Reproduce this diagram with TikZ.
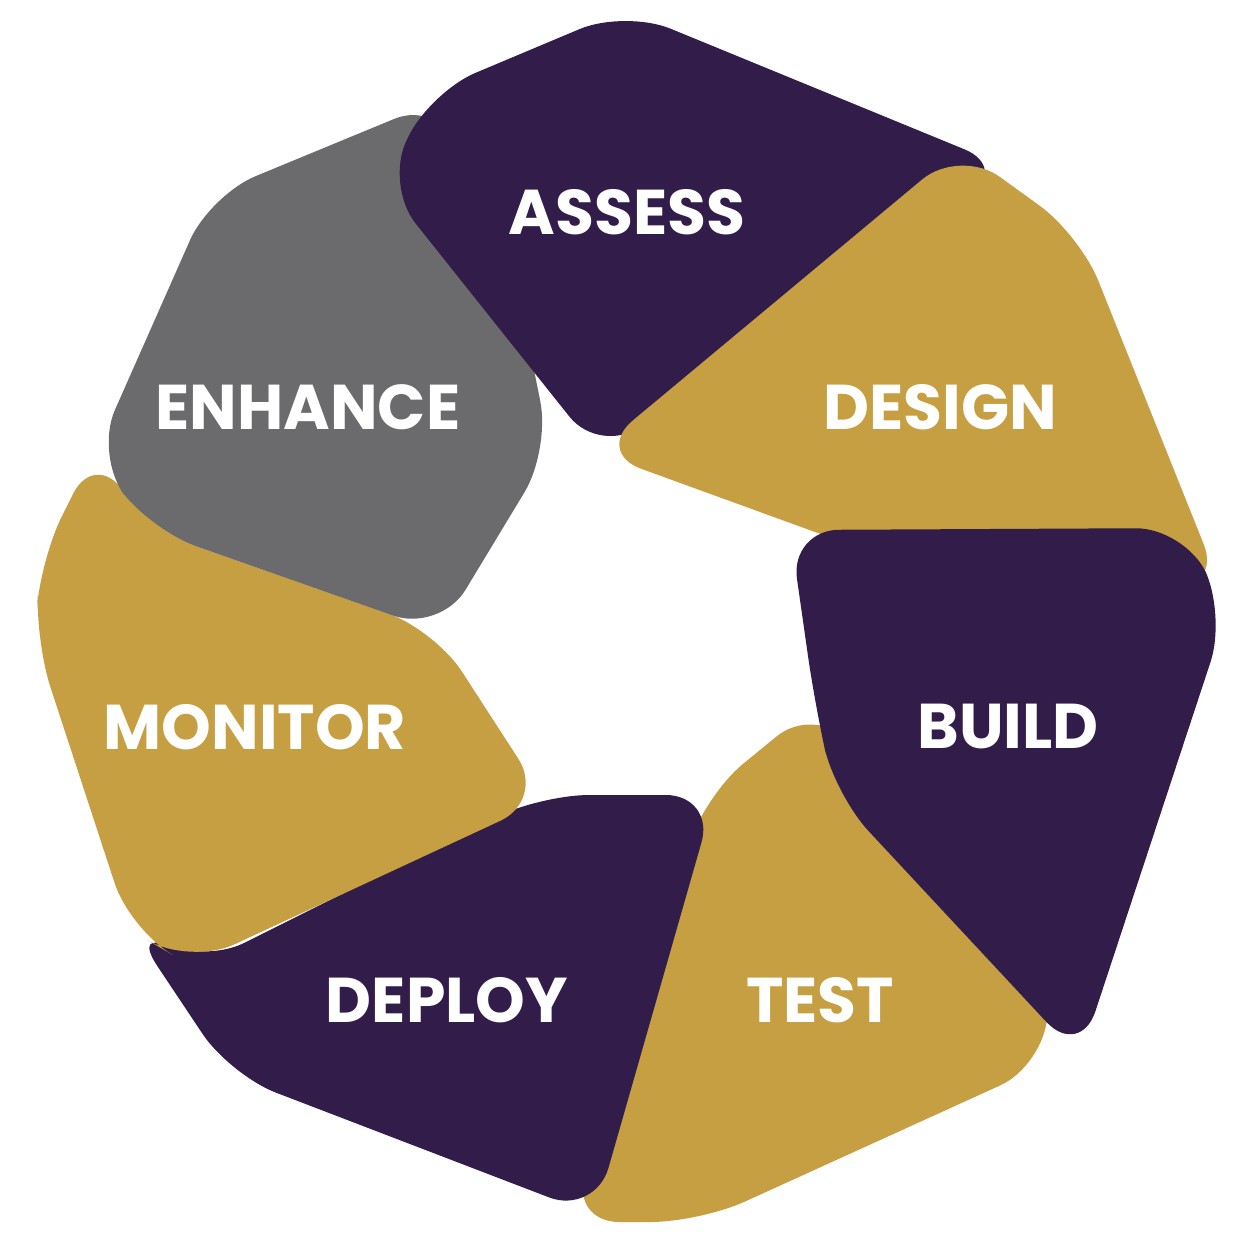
\documentclass[tikz,border=0pt]{standalone}
\usepackage{fontspec}
\setmainfont{Poppins}
\definecolor{cpur}{HTML}{321C4A}
\definecolor{cgold}{HTML}{C59F42}
\definecolor{cgray}{HTML}{6B6B6E}
\begin{document}
\begin{tikzpicture}[x=0.1mm,y=-0.1mm,
 seg/.style={rounded corners=14pt},
 lab/.style={text=white,font=\fontsize{18}{22}\selectfont\bfseries}]
\useasboundingbox (0,0) rectangle (1254,1254);
\fill[cgold,seg] (705,795)--(815,705)--(1050,955)--(1045,1065)--(700,1222)--(570,1222)--cycle;
\fill[cpur,seg] (540,795)--(715,795)--(595,1215)--(230,1075)--(130,925)--(200,965)--cycle;
\fill[cgold,seg] (95,450)--(150,530)--(435,630)--(545,800)--(190,965)--(130,930)--(35,640)--(40,560)--cycle;
\fill[cgray,seg] (440,100)--(210,195)--(95,455)--(150,530)--(440,632)--(550,450)--(520,300)--cycle;
\fill[cpur,seg] (430,92)--(625,10)--(1010,168)--(600,455)--(385,185)--cycle;
\fill[cgold,seg] (960,148)--(1080,235)--(1222,590)--(870,552)--(595,452)--cycle;
\fill[cpur,seg] (790,530)--(1185,528)--(1226,615)--(1080,1058)--(835,795)--(815,705)--cycle;
\node[lab] (a) at (627,212) {ASSESS};
\node[lab] (d) at (940,407) {DESIGN};
\node[lab] (b) at (1008,727) {BUILD};
\node[lab] (t) at (820,1000) {TEST};
\node[lab] (p) at (447,1000) {DEPLOY};
\node[lab] (m) at (255,727) {MONITOR};
\node[lab] (e) at (308,407) {ENHANCE};
\end{tikzpicture}
\end{document}
